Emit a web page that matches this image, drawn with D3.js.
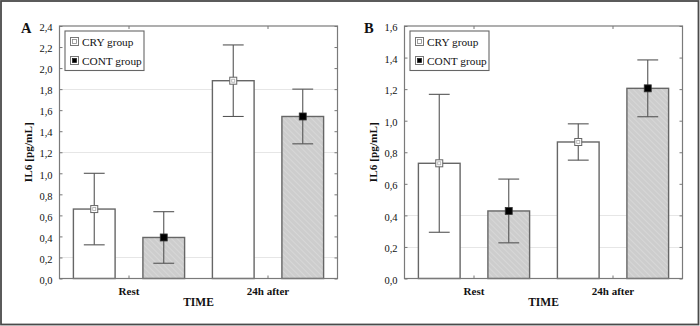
<!DOCTYPE html>
<html>
<head>
<meta charset="utf-8">
<script src="https://cdn.jsdelivr.net/npm/d3@7"></script>
<style>
  html, body { margin: 0; padding: 0; background: #fff; }
  svg { display: block; }
  text { font-family: "Liberation Serif", "Times New Roman", serif; fill: #111; }
</style>
</head>
<body>
<svg id="chart" width="700" height="326"></svg>
<script>
// ---- Data ----
const categories = ["Rest", "24h after"];
const groups = ["CRY group", "CONT group"];

// Panel A
const aCryMean = [0.66, 1.88];
const aCryErr  = [0.34, 0.34];
const aContMean = [0.39, 1.54];
const aContErr  = [0.245, 0.26];
const aTicks = [0, 0.2, 0.4, 0.6, 0.8, 1.0, 1.2, 1.4, 1.6, 1.8, 2.0, 2.2, 2.4];
const aGrid = [0.2, 1.2, 1.8];

// Panel B
const bCryMean = [0.73, 0.865];
const bCryErr  = [0.437, 0.115];
const bContMean = [0.428, 1.205];
const bContErr  = [0.202, 0.18];
const bTicks = [0, 0.2, 0.4, 0.6, 0.8, 1.0, 1.2, 1.4, 1.6];
const bGrid = [0.2, 0.4];

const svg = d3.select("#chart");

// hatch pattern
const defs = svg.append("defs");
const pat = defs.append("pattern")
  .attr("id", "hatch").attr("patternUnits", "userSpaceOnUse")
  .attr("width", 4).attr("height", 4)
  .attr("patternTransform", "rotate(-45)");
pat.append("rect").attr("width", 4).attr("height", 4).attr("fill", "#cdcdcd");
pat.append("line").attr("x1", 0).attr("y1", 0).attr("x2", 0).attr("y2", 4)
  .attr("stroke", "#dedede").attr("stroke-width", 1.2);

// outer border
svg.append("rect").attr("x", 1).attr("y", 1).attr("width", 697.5).attr("height", 323.5)
  .attr("fill", "none").attr("stroke", "#4a4a4a").attr("stroke-width", 1.8);

const fmt = v => d3.format(".1f")(v).replace(".", ",");

function panel(opts) {
  const { left, right, top, bottom, ymax, ticks, grid, cry, cryErr, cont, contErr, letter, letterX } = opts;
  const g = svg.append("g");
  const y = d3.scaleLinear().domain([0, ymax]).range([bottom, top]);
  const x = d3.scaleBand().domain(categories).range([left, right]).paddingInner(0).paddingOuter(0);
  const xg = d3.scaleBand().domain(groups).range([0, x.bandwidth()]).paddingInner(0.4).paddingOuter(0.2);

  // grid lines
  g.selectAll(".grid").data(grid).enter().append("line")
    .attr("x1", left).attr("x2", right)
    .attr("y1", d => Math.round(y(d)) + 0.5).attr("y2", d => Math.round(y(d)) + 0.5)
    .attr("stroke", "#e6e6e6").attr("stroke-width", 1.2);

  // bars
  const rows = [];
  categories.forEach((c, i) => {
    rows.push({ c, grp: groups[0], v: cry[i], e: cryErr[i] });
    rows.push({ c, grp: groups[1], v: cont[i], e: contErr[i] });
  });
  g.selectAll(".bar").data(rows).enter().append("rect")
    .attr("x", d => x(d.c) + xg(d.grp))
    .attr("y", d => y(d.v))
    .attr("width", xg.bandwidth())
    .attr("height", d => y(0) - y(d.v))
    .attr("fill", d => d.grp === groups[0] ? "#fff" : "url(#hatch)")
    .attr("stroke", "#666").attr("stroke-width", 1.4);

  // error bars
  const cx = d => x(d.c) + xg(d.grp) + xg.bandwidth() / 2;
  const capW = xg.bandwidth() / 2;
  const eb = g.selectAll(".eb").data(rows).enter().append("g").attr("stroke", "#555").attr("stroke-width", 1.1);
  eb.append("line").attr("x1", cx).attr("x2", cx).attr("y1", d => y(d.v + d.e)).attr("y2", d => y(d.v - d.e));
  eb.append("line").attr("x1", d => cx(d) - capW / 2).attr("x2", d => cx(d) + capW / 2)
    .attr("y1", d => y(d.v + d.e)).attr("y2", d => y(d.v + d.e));
  eb.append("line").attr("x1", d => cx(d) - capW / 2).attr("x2", d => cx(d) + capW / 2)
    .attr("y1", d => y(d.v - d.e)).attr("y2", d => y(d.v - d.e));

  // markers
  rows.forEach(d => {
    if (d.grp === groups[0]) {
      g.append("rect").attr("x", cx(d) - 3.5).attr("y", y(d.v) - 3.5).attr("width", 7).attr("height", 7)
        .attr("fill", "#fff").attr("stroke", "#666").attr("stroke-width", 1);
      g.append("rect").attr("x", cx(d) - 1.5).attr("y", y(d.v) - 1.5).attr("width", 3).attr("height", 3)
        .attr("fill", "none").attr("stroke", "#aaa").attr("stroke-width", 0.8);
    } else {
      g.append("rect").attr("x", cx(d) - 3.5).attr("y", y(d.v) - 3.5).attr("width", 7).attr("height", 7)
        .attr("fill", "#000").attr("stroke", "#333").attr("stroke-width", 0.8);
    }
  });

  // frame
  g.append("rect").attr("x", left).attr("y", top).attr("width", right - left).attr("height", bottom - top)
    .attr("fill", "none").attr("stroke", "#7a7a7a").attr("stroke-width", 1.2);

  // axes (inward ticks)
  const yl = g.append("g").attr("transform", `translate(${left},0)`)
    .call(d3.axisLeft(y).tickValues(ticks).tickSize(-3).tickPadding(7).tickFormat(fmt));
  const yr = g.append("g").attr("transform", `translate(${right},0)`)
    .call(d3.axisRight(y).tickValues(ticks).tickSize(-3).tickFormat(""));
  const xb = g.append("g").attr("transform", `translate(0,${bottom})`)
    .call(d3.axisBottom(x).tickSize(-3).tickPadding(9));
  const xt = g.append("g").attr("transform", `translate(0,${top})`)
    .call(d3.axisTop(x).tickSize(-3).tickFormat(""));
  [yl, yr, xb, xt].forEach(a => {
    a.select(".domain").remove();
    a.selectAll(".tick line").attr("stroke", "#777").attr("stroke-width", 1);
  });
  yl.selectAll(".tick text").attr("font-size", "10.5px").attr("font-family", "Liberation Serif").attr("fill", "#222").attr("dy", "0.45em");
  xb.selectAll(".tick text").attr("font-size", "11px").attr("font-weight", "bold").attr("font-family", "Liberation Serif").attr("fill", "#111");

  // axis titles
  g.append("text").attr("x", (left + right) / 2).attr("y", 305.5).attr("text-anchor", "middle")
    .attr("font-size", "11.5px").attr("font-weight", "bold").text("TIME");
  g.append("text").attr("transform", `translate(${left - 28},${(top + bottom) / 2}) rotate(-90)`)
    .attr("text-anchor", "middle").attr("font-size", "11.3px").attr("font-weight", "bold").text("IL6 [pg/mL]");

  // panel letter
  g.append("text").attr("x", letterX).attr("y", 32.5).attr("font-size", "14.5px").attr("font-weight", "bold").text(letter);

  // legend
  const lg = g.append("g").attr("transform", `translate(${left + 5.5},${top + 5})`);
  lg.append("rect").attr("x", 0).attr("y", 0).attr("width", 79).attr("height", 39.5)
    .attr("fill", "#fff").attr("stroke", "#666").attr("stroke-width", 1.1);
  groups.forEach((name, i) => {
    const cy = 10.5 + i * 19;
    lg.append("rect").attr("x", 5.5).attr("y", cy - 4).attr("width", 8).attr("height", 8)
      .attr("fill", "#fff").attr("stroke", "#777").attr("stroke-width", 1);
    lg.append("rect").attr("x", 7.5).attr("y", cy - 2).attr("width", 4).attr("height", 4)
      .attr("fill", i === 0 ? "#fff" : "#000").attr("stroke", i === 0 ? "#888" : "#222").attr("stroke-width", 0.8);
    lg.append("text").attr("x", 17).attr("y", cy + 4).attr("font-size", "11.3px").attr("fill", "#111").text(name);
  });
}

panel({ left: 59.5, right: 337.5, top: 26, bottom: 278.5, ymax: 2.4, ticks: aTicks, grid: aGrid,
  cry: aCryMean, cryErr: aCryErr, cont: aContMean, contErr: aContErr, letter: "A", letterX: 21 });
panel({ left: 404.5, right: 682.5, top: 26, bottom: 278.5, ymax: 1.6, ticks: bTicks, grid: bGrid,
  cry: bCryMean, cryErr: bCryErr, cont: bContMean, contErr: bContErr, letter: "B", letterX: 364 });
</script>
</body>
</html>
